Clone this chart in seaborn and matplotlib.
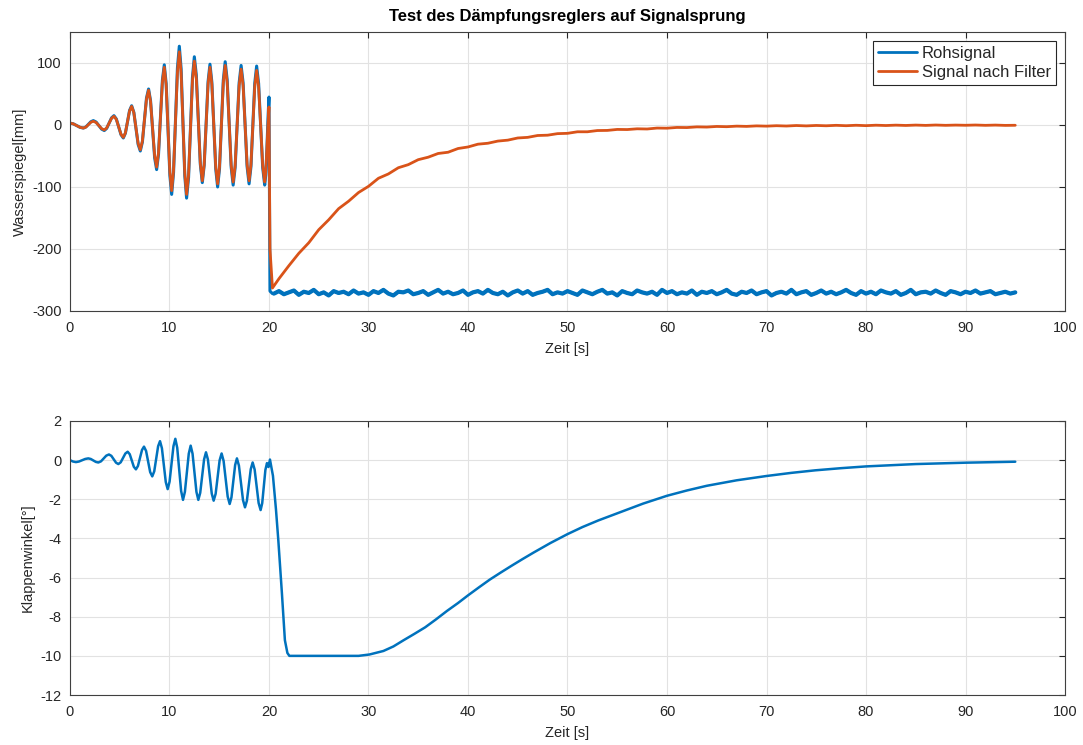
import numpy as np
import pandas as pd
import matplotlib
matplotlib.use("Agg")
import matplotlib.pyplot as plt
import seaborn as sns

# ---------------- data ----------------
# water level during the oscillation phase (t in s, level in mm)
osc_t = [0.0, 0.34, 0.68, 1.01,
         1.35, 1.6, 1.85, 2.1,
         2.35, 2.63, 2.9, 3.18,
         3.45, 3.69, 3.94, 4.18,
         4.42, 4.66, 4.89, 5.13,
         5.36, 5.57, 5.78, 5.99,
         6.2, 6.42, 6.64, 6.85,
         7.07, 7.28, 7.49, 7.69,
         7.9, 8.1, 8.31, 8.51,
         8.71, 8.9, 9.1, 9.29,
         9.48, 9.67, 9.85, 10.04,
         10.22, 10.41, 10.61, 10.8,
         10.99, 11.17, 11.36, 11.54,
         11.72, 11.92, 12.11, 12.31,
         12.5, 12.7, 12.9, 13.1,
         13.3, 13.49, 13.69, 13.88,
         14.07, 14.26, 14.46, 14.65,
         14.84, 15.03, 15.22, 15.41,
         15.6, 15.8, 16.0, 16.2,
         16.4, 16.6, 16.8, 17.0,
         17.2, 17.4, 17.6, 17.8,
         18.0, 18.19, 18.38, 18.57,
         18.76, 18.96, 19.17, 19.37,
         19.57, 19.68, 19.79, 19.9,
         20.0, 20.1, 20.35]
raw_osc = [3, 1.8, -1, -3.8,
           -5, -3.2, 1, 5.2,
           7, 4.7, -1, -6.7,
           -9, -5.5, 3, 11.5,
           15, 9.7, -3, -15.7,
           -21, -13.4, 5, 23.4,
           31, 20.3, -5.5, -31.3,
           -42, -27.4, 8, 43.4,
           58, 39, -7, -53,
           -72, -47.2, 12.5, 72.2,
           97, 66.4, -7.5, -81.4,
           -112, -77, 7.5, 92,
           127, 91.1, 4.5, -82.1,
           -118, -84.6, -4, 76.6,
           110, 80.3, 8.5, -63.3,
           -93, -65, 2.5, 70,
           98, 69, -1, -71,
           -100, -70.4, 1, 72.4,
           102, 72.8, 2.5, -67.8,
           -97, -68.7, -0.5, 67.7,
           96, 68, 0.5, -67,
           -95, -67.2, 0, 67.2,
           95, 66.9, -1, -68.9,
           -97, -80, -40, 10,
           45, -268, -272]
filt_osc = [3, 1.8, -1, -3.8,
            -5, -3.4, 0.5, 4.4,
            6, 3.9, -1, -5.9,
            -8, -4.8, 3, 10.8,
            14, 9, -3, -15,
            -20, -12.7, 5, 22.7,
            30, 19.7, -5, -29.7,
            -40, -25.9, 8, 41.9,
            56, 37.8, -6, -49.8,
            -68, -44.4, 12.5, 69.4,
            93, 63.8, -6.5, -76.8,
            -106, -73.2, 6, 85.2,
            118, 84.3, 3, -78.3,
            -112, -80.5, -4.5, 71.5,
            103, 74.7, 6.5, -61.7,
            -90, -63.2, 1.5, 66.2,
            93, 65.5, -1, -67.5,
            -95, -67, 0.5, 68,
            96, 68.5, 2, -64.5,
            -92, -65.3, -1, 63.3,
            90, 63.6, 0, -63.6,
            -90, -63.9, -1, 61.9,
            88, 61.6, -2, -65.6,
            -92, -76, -38, 0,
            29, -200, -263]

# raw signal after the step, one sample every 0.5 s from 20.5 s to 95 s
raw_tail = [
    -272, -268, -273, -270, -267, -274, -269, -271, -266, -273, -270, -275, -268, -271, -269,
    -273, -267, -272, -270, -274, -268, -271, -266, -272, -275, -269, -270, -267, -273, -271,
    -268, -274, -270, -266, -272, -269, -273, -271, -267, -274, -270, -268, -272, -266, -271,
    -273, -269, -275, -270, -267, -272, -268, -274, -271, -269, -266, -273, -270, -272, -268,
    -271, -274, -267, -270, -273, -269, -266, -272, -270, -275, -268, -271, -273, -267, -270,
    -272, -269, -274, -266, -271, -268, -273, -270, -272, -267, -274, -269, -271, -268, -273,
    -270, -266, -272, -274, -269, -271, -267, -273, -270, -268, -275, -271, -269, -272, -266,
    -273, -270, -268, -274, -271, -267, -272, -269, -273, -270, -266, -271, -274, -268, -272,
    -269, -273, -267, -270, -272, -268, -274, -271, -266, -273, -270, -269, -272, -267, -271,
    -274, -268, -270, -273, -269, -271, -267, -272, -270, -268, -273, -271, -269, -272, -270]
raw_tail_t = np.arange(20.5, 95.01, 0.5)

# filtered signal after the step, one sample per second from 21 s to 95 s
filt_tail = [
    -248, -227, -207, -190, -169, -153, -135, -123, -109, -99,
    -86, -79, -69, -64, -56, -52, -46, -44, -38, -35.5,
    -31, -29.5, -26, -24.5, -21, -20, -17, -16.5, -14, -13.5,
    -11, -11, -9, -8.8, -7.2, -7.4, -6.2, -6.5, -5.0, -5.2,
    -4.0, -4.2, -3.1, -3.4, -2.4, -2.8, -1.9, -2.3, -1.5, -1.9,
    -1.2, -1.7, -0.9, -1.5, -0.8, -1.3, -0.6, -1.2, -0.5, -1.1,
    -0.4, -0.9, -0.3, -0.8, -0.2, -0.7, -0.1, -0.6, -0.2, -0.5,
    -0.1, -0.6, -0.2, -0.7, -0.5]
filt_tail_t = np.arange(21, 96, 1)

# flap angle in degrees
angle_t = [0.0, 0.3,
           0.6, 0.91, 1.22, 1.53,
           1.84, 2.09, 2.35, 2.6,
           2.85, 3.12, 3.39, 3.65,
           3.92, 4.16, 4.39, 4.63,
           4.86, 5.1, 5.33, 5.57,
           5.8, 6.01, 6.22, 6.42,
           6.63, 6.83, 7.04, 7.24,
           7.44, 7.65, 7.86, 8.06,
           8.27, 8.47, 8.66, 8.86,
           9.05, 9.24, 9.44, 9.63,
           9.82, 10.01, 10.21, 10.4,
           10.59, 10.78, 10.98, 11.17,
           11.36, 11.55, 11.75, 11.94,
           12.13, 12.32, 12.52, 12.71,
           12.9, 13.09, 13.29, 13.48,
           13.67, 13.86, 14.06, 14.25,
           14.44, 14.64, 14.84, 15.04,
           15.24, 15.44, 15.65, 15.85,
           16.05, 16.23, 16.42, 16.6,
           16.78, 16.98, 17.19, 17.39,
           17.59, 17.78, 17.98, 18.17,
           18.36, 18.56, 18.76, 18.96,
           19.16, 19.32, 19.48, 19.64,
           19.8, 19.95, 20.1, 20.4, 20.7, 20.94, 21.3, 21.6, 21.85, 22.05, 29.0,
           30.1, 31.5, 32.5, 33.5, 34.6, 35.7, 36.8, 37.9, 39.0, 40.0,
           41.1, 42.2, 43.3, 44.4, 45.5, 46.6, 48.3, 50.0, 51.5, 53.1,
           55.3, 57.6, 60.0, 62.0, 64.0, 67.0, 70.0, 72.5, 74.9, 77.5,
           80.0, 85.0, 90.0, 95.0]
angle_deg = [0.0, -0.07,
             -0.1, -0.07, -0.005, 0.06,
             0.09, 0.06, -0.015, -0.09,
             -0.12, -0.06, 0.085, 0.23,
             0.29, 0.22, 0.045, -0.13,
             -0.2, -0.11, 0.115, 0.34,
             0.43, 0.30, -0.02, -0.34,
             -0.47, -0.30, 0.11, 0.52,
             0.69, 0.47, -0.07, -0.61,
             -0.83, -0.57, 0.07, 0.71,
             0.97, 0.61, -0.255, -1.12,
             -1.48, -1.10, -0.195, 0.71,
             1.09, 0.63, -0.47, -1.57,
             -2.03, -1.62, -0.645, 0.33,
             0.74, 0.33, -0.645, -1.62,
             -2.03, -1.67, -0.815, 0.04,
             0.40, 0.04, -0.835, -1.71,
             -2.07, -1.72, -0.865, -0.01,
             0.34, -0.04, -0.95, -1.86,
             -2.24, -1.90, -1.075, -0.25,
             0.09, -0.28, -1.16, -2.04,
             -2.41, -2.08, -1.265, -0.46,
             -0.12, -0.48, -1.335, -2.19,
             -2.55, -2.20, -1.35, -0.50,
             -0.15, -0.35, 0.03, -0.8, -2.5, -4.1, -6.8, -9.2, -9.85, -10.0, -10.0,
             -9.93, -9.75, -9.52, -9.21, -8.88, -8.54, -8.13, -7.70, -7.30, -6.91,
             -6.50, -6.10, -5.74, -5.39, -5.05, -4.72, -4.23, -3.78, -3.42, -3.08,
             -2.66, -2.22, -1.82, -1.55, -1.31, -1.03, -0.81, -0.65, -0.52, -0.41,
             -0.32, -0.20, -0.13, -0.08]

labels = ["Rohsignal", "Signal nach Filter"]
x_ticks = list(range(0, 101, 10))
top_yticks = [-300, -200, -100, 0, 100]
bottom_yticks = list(range(-12, 3, 2))

BLUE = "#0072BD"
ORANGE = "#D95319"
DARK = "#262626"

# ---------------- tables ----------------
raw_df = pd.DataFrame({"t": list(osc_t) + list(raw_tail_t),
                       "v": list(raw_osc) + list(raw_tail)})
raw_tail_df = pd.DataFrame({"t": raw_tail_t, "v": raw_tail})
filt_df = pd.DataFrame({"t": list(osc_t) + list(filt_tail_t),
                        "v": list(filt_osc) + list(filt_tail)})
angle_df = pd.DataFrame({"t": angle_t, "deg": angle_deg})

# ---------------- style ----------------
sns.set_theme(style="whitegrid")
plt.rcParams["font.family"] = ["Liberation Sans", "DejaVu Sans"]
plt.rcParams["axes.unicode_minus"] = False
plt.rcParams["lines.solid_joinstyle"] = "round"

fig = plt.figure(figsize=(10.83, 7.45), dpi=100)
ax1 = fig.add_axes([0.0646, 0.5826, 0.9188, 0.3745])
ax2 = fig.add_axes([0.0646, 0.0671, 0.9188, 0.3678])

sns.lineplot(data=raw_df, x="t", y="v", color=BLUE, estimator=None, sort=False,
             lw=2.2, label=labels[0], ax=ax1)
# the noisy raw level after the step reads as a thick band
sns.lineplot(data=raw_tail_df, x="t", y="v", color=BLUE, estimator=None, sort=False,
             lw=3.0, label="_nolegend_", legend=False, ax=ax1)
sns.lineplot(data=filt_df, x="t", y="v", color=ORANGE, estimator=None, sort=False,
             lw=2.0, label=labels[1], ax=ax1)
sns.lineplot(data=angle_df, x="t", y="deg", color=BLUE, estimator=None,
             sort=False, lw=1.8, ax=ax2)

for ax in (ax1, ax2):
    ax.set_xlim(0, 100)
    ax.set_xticks(x_ticks)
    ax.set_facecolor("white")
    ax.grid(True, color="#e2e2e2", lw=0.8)
    ax.set_axisbelow(True)
    for sp in ax.spines.values():
        sp.set_visible(True)
        sp.set_color("#404040")
        sp.set_linewidth(0.8)
    ax.tick_params(direction="in", top=True, right=True, length=4, width=0.8,
                   color=DARK, labelcolor=DARK, labelsize=10.5)
    ax.tick_params(axis="x", pad=7)
    ax.tick_params(axis="y", pad=6)
    ax.set_xlabel("Zeit [s]", fontsize=10.5, color=DARK, labelpad=5.5)

ax1.set_ylim(-300, 150)
ax1.set_yticks(top_yticks)
ax1.set_ylabel("Wasserspiegel[mm]", fontsize=10.5, color=DARK, labelpad=4)
ax1.set_title("Test des Dämpfungsreglers auf Signalsprung", fontsize=12,
              fontweight="bold", color="black", pad=8)

ax2.set_ylim(-12, 2)
ax2.set_yticks(bottom_yticks)
ax2.set_ylabel("Klappenwinkel[°]", fontsize=10.5, color=DARK, labelpad=4)

leg = ax1.legend(loc="upper right", frameon=True, fancybox=False,
                 edgecolor=DARK, framealpha=1, fontsize=12, borderaxespad=0.55,
                 handlelength=2.3, handletextpad=0.3, labelspacing=0.25,
                 borderpad=0.3)
leg.get_frame().set_linewidth(0.8)
for line in leg.get_lines():
    line.set_linewidth(2.0)

fig.savefig("out.png", dpi=100, facecolor="white")
